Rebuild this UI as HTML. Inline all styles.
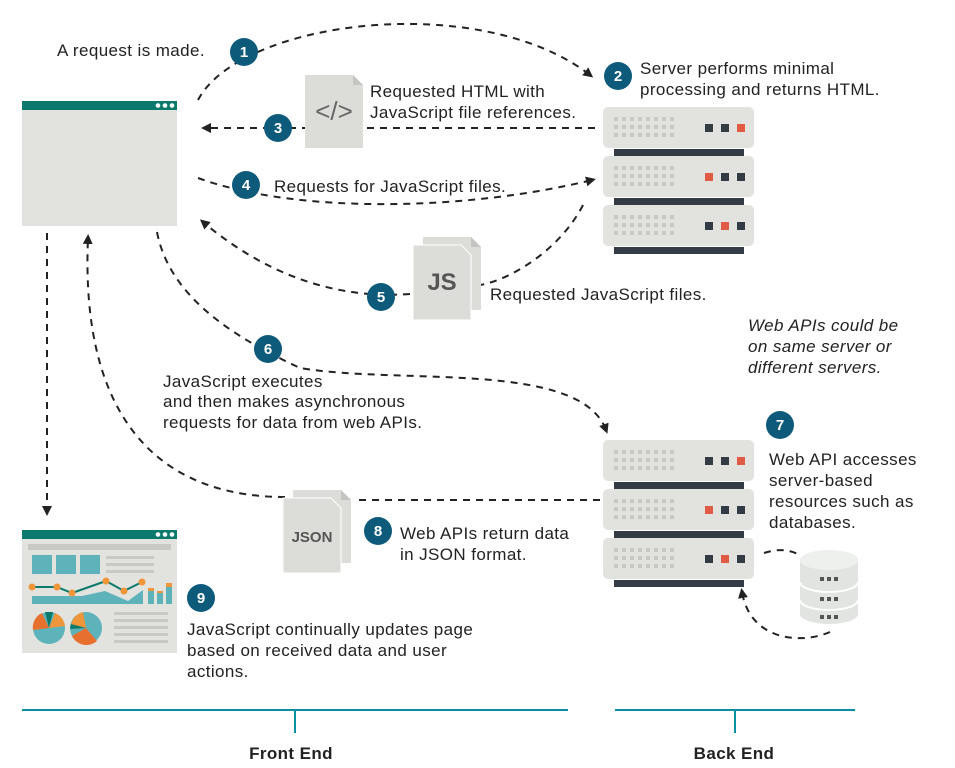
<!DOCTYPE html>
<html><head><meta charset="utf-8"><style>
html,body{margin:0;padding:0;background:#fff;}
svg{display:block;}
text{font-family:"Liberation Sans",sans-serif;font-size:17px;letter-spacing:0.4px;fill:#222;}
.n{fill:#fff;font-weight:bold;font-size:15px;text-anchor:middle;letter-spacing:0;}
.d{fill:none;stroke:#222;stroke-width:2;stroke-dasharray:7,6;}
</style></head><body>
<svg width="955" height="768" viewBox="0 0 955 768" xmlns="http://www.w3.org/2000/svg">
<defs>
<marker id="a" markerWidth="10" markerHeight="10" refX="6" refY="5" orient="auto" markerUnits="userSpaceOnUse"><path d="M0,0 L10,5 L0,10 Z" fill="#222"/></marker>
<g id="srv">
  <rect x="0" y="0" width="151" height="41" rx="5" fill="#e2e2de"/>
  <rect x="11" y="42" width="130" height="7" fill="#333b45"/>
  <g fill="#c8c8c4">
   <rect x="11" y="10" width="4" height="4"/><rect x="19" y="10" width="4" height="4"/><rect x="27" y="10" width="4" height="4"/><rect x="35" y="10" width="4" height="4"/><rect x="43" y="10" width="4" height="4"/><rect x="51" y="10" width="4" height="4"/><rect x="59" y="10" width="4" height="4"/><rect x="67" y="10" width="4" height="4"/>
   <rect x="11" y="18" width="4" height="4"/><rect x="19" y="18" width="4" height="4"/><rect x="27" y="18" width="4" height="4"/><rect x="35" y="18" width="4" height="4"/><rect x="43" y="18" width="4" height="4"/><rect x="51" y="18" width="4" height="4"/><rect x="59" y="18" width="4" height="4"/><rect x="67" y="18" width="4" height="4"/>
   <rect x="11" y="26" width="4" height="4"/><rect x="19" y="26" width="4" height="4"/><rect x="27" y="26" width="4" height="4"/><rect x="35" y="26" width="4" height="4"/><rect x="43" y="26" width="4" height="4"/><rect x="51" y="26" width="4" height="4"/><rect x="59" y="26" width="4" height="4"/><rect x="67" y="26" width="4" height="4"/>
  </g>
</g>
<g id="doc">
  <path d="M0,0 H48 L58,10 V73 H0 Z" fill="#dcdcd8"/>
  <path d="M48,0 L58,10 H48 Z" fill="#c4c4c0"/>
</g>
</defs>

<rect x="22" y="101" width="155" height="125" fill="#e2e2de"/>
<rect x="22" y="101" width="155" height="9" fill="#0b7a6c"/>
<circle cx="158" cy="105.5" r="2.3" fill="#fff"/><circle cx="165" cy="105.5" r="2.3" fill="#fff"/><circle cx="172" cy="105.5" r="2.3" fill="#fff"/>

<g transform="translate(603,107)"><use href="#srv"/><rect x="102" y="17" width="8" height="8" fill="#333b45"/><rect x="118" y="17" width="8" height="8" fill="#333b45"/><rect x="134" y="17" width="8" height="8" fill="#e05a44"/></g>
<g transform="translate(603,156)"><use href="#srv"/><rect x="102" y="17" width="8" height="8" fill="#e05a44"/><rect x="118" y="17" width="8" height="8" fill="#333b45"/><rect x="134" y="17" width="8" height="8" fill="#333b45"/></g>
<g transform="translate(603,205)"><use href="#srv"/><rect x="102" y="17" width="8" height="8" fill="#333b45"/><rect x="118" y="17" width="8" height="8" fill="#e05a44"/><rect x="134" y="17" width="8" height="8" fill="#333b45"/></g>
<g transform="translate(603,440)"><use href="#srv"/><rect x="102" y="17" width="8" height="8" fill="#333b45"/><rect x="118" y="17" width="8" height="8" fill="#333b45"/><rect x="134" y="17" width="8" height="8" fill="#e05a44"/></g>
<g transform="translate(603,489)"><use href="#srv"/><rect x="102" y="17" width="8" height="8" fill="#e05a44"/><rect x="118" y="17" width="8" height="8" fill="#333b45"/><rect x="134" y="17" width="8" height="8" fill="#333b45"/></g>
<g transform="translate(603,538)"><use href="#srv"/><rect x="102" y="17" width="8" height="8" fill="#333b45"/><rect x="118" y="17" width="8" height="8" fill="#e05a44"/><rect x="134" y="17" width="8" height="8" fill="#333b45"/></g>

<g>
 <path d="M800,560 V614 A29,10 0 0 0 858,614 V560 Z" fill="#e2e4e2"/>
 <ellipse cx="829" cy="560" rx="29" ry="10" fill="#eef0ee"/>
 <path d="M800,582 A29,10 0 0 0 858,582 M800,600 A29,10 0 0 0 858,600" fill="none" stroke="#fff" stroke-width="2"/>
 <g fill="#555"><rect x="820" y="577" width="4" height="4"/><rect x="827" y="577" width="4" height="4"/><rect x="834" y="577" width="4" height="4"/>
 <rect x="820" y="597" width="4" height="4"/><rect x="827" y="597" width="4" height="4"/><rect x="834" y="597" width="4" height="4"/>
 <rect x="820" y="615" width="4" height="4"/><rect x="827" y="615" width="4" height="4"/><rect x="834" y="615" width="4" height="4"/></g>
</g>

<path class="d" d="M198,100 C240,20 480,-10 590,75" marker-end="url(#a)"/>
<path class="d" d="M595,128 H205" marker-end="url(#a)"/>
<path class="d" d="M198,178 C300,215 470,210 592,180" marker-end="url(#a)"/>
<path class="d" d="M583,205 C560,250 510,280 480,285"/>
<path class="d" d="M410,294 C330,300 260,270 203,222" marker-end="url(#a)"/>
<path class="d" d="M157,232 C170,300 240,340 300,368 C400,385 580,360 606,430" marker-end="url(#a)"/>
<path class="d" d="M600,500 H355"/>
<path class="d" d="M285,497 C160,497 80,420 88,238" marker-end="url(#a)"/>
<path class="d" d="M47,233 V512" marker-end="url(#a)"/>
<path class="d" d="M764,553 C780,548 790,550 800,555"/>
<path class="d" d="M830,632 C800,645 750,640 742,592" marker-end="url(#a)"/>

<g transform="translate(305,75)"><use href="#doc"/><text x="29" y="45" style="font-size:26px;fill:#666;text-anchor:middle;letter-spacing:0">&lt;/&gt;</text></g>
<g transform="translate(423,237)"><use href="#doc"/></g>
<g transform="translate(413,245)"><path d="M0,0 H48 L58,10 V75 H0 Z" fill="#dcdcd8" stroke="#fff" stroke-width="1"/><text x="29" y="45" style="font-size:24px;fill:#555;text-anchor:middle;font-weight:bold;letter-spacing:0">JS</text></g>
<g transform="translate(293,490)"><use href="#doc"/></g>
<g transform="translate(283,498)"><path d="M0,0 H48 L58,10 V75 H0 Z" fill="#dcdcd8" stroke="#fff" stroke-width="1"/><text x="29" y="44" style="font-size:15px;fill:#555;text-anchor:middle;font-weight:bold;letter-spacing:0">JSON</text></g>

<rect x="22" y="530" width="155" height="123" fill="#e2e2de"/>
<rect x="22" y="530" width="155" height="9" fill="#0b7a6c"/>
<circle cx="158" cy="534.5" r="2.3" fill="#fff"/><circle cx="165" cy="534.5" r="2.3" fill="#fff"/><circle cx="172" cy="534.5" r="2.3" fill="#fff"/>
<rect x="28" y="544" width="143" height="6" fill="#c8c8c4"/>
<rect x="32" y="555" width="20" height="19" fill="#5eb3bb"/><rect x="56" y="555" width="20" height="19" fill="#5eb3bb"/><rect x="80" y="555" width="20" height="19" fill="#5eb3bb"/>
<rect x="106" y="556" width="48" height="3" fill="#c8c8c4"/><rect x="106" y="563" width="48" height="3" fill="#c8c8c4"/><rect x="106" y="570" width="48" height="3" fill="#c8c8c4"/>
<path d="M32,596 H82 L105,591 L128,601 L143,590 V604 H32 Z" fill="#5eb3bb"/>
<polyline points="32,587 57,587 72,593 106,581 124,591 142,582" fill="none" stroke="#0b7a6c" stroke-width="2"/>
<g fill="#f0963a"><circle cx="32" cy="587" r="3.5"/><circle cx="57" cy="587" r="3.5"/><circle cx="72" cy="593" r="3.5"/><circle cx="106" cy="581" r="3.5"/><circle cx="124" cy="591" r="3.5"/><circle cx="142" cy="582" r="3.5"/></g>
<rect x="148" y="590" width="6" height="14" fill="#5eb3bb"/><rect x="157" y="592" width="6" height="12" fill="#5eb3bb"/><rect x="166" y="583" width="6" height="21" fill="#5eb3bb"/>
<rect x="148" y="588" width="6" height="3" fill="#f0963a"/><rect x="157" y="591" width="6" height="2" fill="#f0963a"/><rect x="166" y="583" width="6" height="4" fill="#f0963a"/>
<circle cx="49" cy="628" r="16" fill="#5eb3bb"/><path d="M49,628 L33,630 A16,16 0 0 1 42,613 Z" fill="#e8702e"/><path d="M49,628 L55,613 A16,16 0 0 1 65,626 Z" fill="#f0963a"/><path d="M49,628 L45,612 L53,612 Z" fill="#0b7a6c"/>
<circle cx="86" cy="628" r="16" fill="#5eb3bb"/><path d="M86,628 L97,641 A16,16 0 0 1 72,636 Z" fill="#e8702e"/><path d="M86,628 L71,625 A16,16 0 0 1 83,612 Z" fill="#f0963a"/><path d="M86,628 L70,629 L71,624 Z" fill="#0b7a6c"/>
<rect x="114" y="612" width="54" height="3" fill="#c8c8c4"/><rect x="114" y="619" width="54" height="3" fill="#c8c8c4"/><rect x="114" y="626" width="54" height="3" fill="#c8c8c4"/><rect x="114" y="633" width="54" height="3" fill="#c8c8c4"/><rect x="114" y="640" width="54" height="3" fill="#c8c8c4"/>

<g fill="#0e5a7a">
<circle cx="244" cy="52" r="14"/><circle cx="618" cy="76" r="14"/><circle cx="278" cy="128" r="14"/><circle cx="246" cy="185" r="14"/><circle cx="381" cy="297" r="14"/><circle cx="268" cy="349" r="14"/><circle cx="780" cy="425" r="14"/><circle cx="378" cy="531" r="14"/><circle cx="201" cy="598" r="14"/>
</g>
<text class="n" x="244" y="57">1</text><text class="n" x="618" y="81">2</text><text class="n" x="278" y="133">3</text><text class="n" x="246" y="190">4</text><text class="n" x="381" y="302">5</text><text class="n" x="268" y="354">6</text><text class="n" x="780" y="430">7</text><text class="n" x="378" y="536">8</text><text class="n" x="201" y="603">9</text>

<text x="57" y="56">A request is made.</text>
<text x="640" y="74">Server performs minimal</text><text x="640" y="95">processing and returns HTML.</text>
<text x="370" y="97">Requested HTML with</text><text x="370" y="118">JavaScript file references.</text>
<text x="274" y="192">Requests for JavaScript files.</text>
<text x="490" y="300">Requested JavaScript files.</text>
<text x="748" y="331" font-style="italic">Web APIs could be</text><text x="748" y="352" font-style="italic">on same server or</text><text x="748" y="373" font-style="italic">different servers.</text>
<text x="163" y="387">JavaScript executes</text><text x="163" y="407">and then makes asynchronous</text><text x="163" y="428">requests for data from web APIs.</text>
<text x="769" y="465">Web API accesses</text><text x="769" y="486">server-based</text><text x="769" y="507">resources such as</text><text x="769" y="528">databases.</text>
<text x="400" y="539">Web APIs return data</text><text x="400" y="560">in JSON format.</text>
<text x="187" y="635">JavaScript continually updates page</text><text x="187" y="656">based on received data and user</text><text x="187" y="677">actions.</text>

<g stroke="#0b8fa3" stroke-width="2"><line x1="22" y1="710" x2="568" y2="710"/><line x1="295" y1="710" x2="295" y2="733"/><line x1="615" y1="710" x2="855" y2="710"/><line x1="735" y1="710" x2="735" y2="733"/></g>
<text x="291" y="759" text-anchor="middle" font-weight="bold">Front End</text>
<text x="734" y="759" text-anchor="middle" font-weight="bold">Back End</text>
</svg>
</body></html>
